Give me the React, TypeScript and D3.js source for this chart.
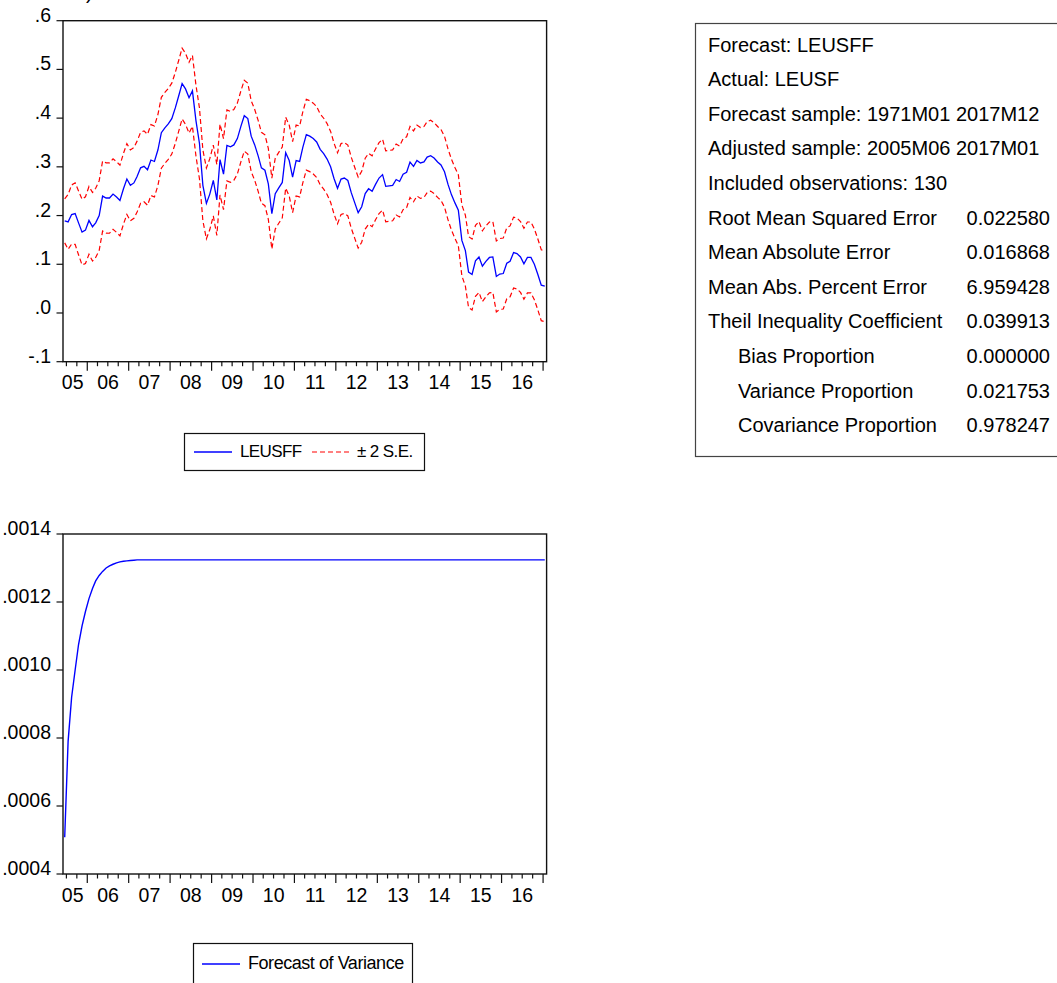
import React from "react";
import * as d3 from "d3";

// ---- data ----
const sampleStart = Date.UTC(2005, 5, 1); // 2005M06
const sampleEnd = Date.UTC(2017, 1, 1); // end of 2017M01

// LEUSFF forecast, monthly 2005M06 .. 2017M01
const forecast = [
  0.189, 0.187, 0.202, 0.204, 0.185, 0.166, 0.170, 0.190, 0.177, 0.185,
  0.200, 0.240, 0.236, 0.236, 0.244, 0.238, 0.231, 0.255, 0.275, 0.262,
  0.267, 0.280, 0.298, 0.301, 0.294, 0.314, 0.311, 0.335, 0.370, 0.380,
  0.388, 0.399, 0.421, 0.445, 0.471, 0.460, 0.442, 0.456, 0.395, 0.348,
  0.262, 0.225, 0.244, 0.272, 0.232, 0.315, 0.285, 0.344, 0.341, 0.345,
  0.358, 0.383, 0.405, 0.399, 0.363, 0.345, 0.322, 0.298, 0.293, 0.265,
  0.204, 0.245, 0.257, 0.268, 0.329, 0.313, 0.279, 0.313, 0.311, 0.340,
  0.366, 0.363, 0.358, 0.351, 0.336, 0.327, 0.316, 0.300, 0.276, 0.256,
  0.275, 0.277, 0.272, 0.247, 0.226, 0.206, 0.218, 0.245, 0.255, 0.250,
  0.264, 0.277, 0.284, 0.260, 0.261, 0.262, 0.274, 0.270, 0.285, 0.289,
  0.310, 0.301, 0.313, 0.308, 0.310, 0.320, 0.323, 0.318, 0.310, 0.304,
  0.290, 0.264, 0.243, 0.226, 0.211, 0.149, 0.128, 0.084, 0.079, 0.107,
  0.115, 0.096, 0.106, 0.114, 0.115, 0.075, 0.080, 0.081, 0.102, 0.106,
  0.124, 0.122, 0.115, 0.101, 0.114, 0.114, 0.100, 0.079, 0.057, 0.055,
];

// Forecast of variance, monthly 2005M06 .. 2017M01
const variance = [
  0.000508, 0.00079, 0.00092, 0.001, 0.001075, 0.00113, 0.001172, 0.00121, 0.00124, 0.001262,
  0.001278, 0.00129, 0.0013, 0.001306, 0.001311, 0.001315, 0.001318, 0.00132, 0.001321, 0.001322,
  0.001323, 0.001324, 0.001324, 0.001324, 0.001324, 0.001324, 0.001324, 0.001324, 0.001324, 0.001324,
  0.001324, 0.001324, 0.001324, 0.001324, 0.001324, 0.001324, 0.001324, 0.001324, 0.001324, 0.001324,
  0.001324, 0.001324, 0.001324, 0.001324, 0.001324, 0.001324, 0.001324, 0.001324, 0.001324, 0.001324,
  0.001324, 0.001324, 0.001324, 0.001324, 0.001324, 0.001324, 0.001324, 0.001324, 0.001324, 0.001324,
  0.001324, 0.001324, 0.001324, 0.001324, 0.001324, 0.001324, 0.001324, 0.001324, 0.001324, 0.001324,
  0.001324, 0.001324, 0.001324, 0.001324, 0.001324, 0.001324, 0.001324, 0.001324, 0.001324, 0.001324,
  0.001324, 0.001324, 0.001324, 0.001324, 0.001324, 0.001324, 0.001324, 0.001324, 0.001324, 0.001324,
  0.001324, 0.001324, 0.001324, 0.001324, 0.001324, 0.001324, 0.001324, 0.001324, 0.001324, 0.001324,
  0.001324, 0.001324, 0.001324, 0.001324, 0.001324, 0.001324, 0.001324, 0.001324, 0.001324, 0.001324,
  0.001324, 0.001324, 0.001324, 0.001324, 0.001324, 0.001324, 0.001324, 0.001324, 0.001324, 0.001324,
  0.001324, 0.001324, 0.001324, 0.001324, 0.001324, 0.001324, 0.001324, 0.001324, 0.001324, 0.001324,
  0.001324, 0.001324, 0.001324, 0.001324, 0.001324, 0.001324, 0.001324, 0.001324, 0.001324, 0.001324,
];

const yearLabels = ["05", "06", "07", "08", "09", "10", "11", "12", "13", "14", "15", "16"];
const topTicks = [-0.1, 0.0, 0.1, 0.2, 0.3, 0.4, 0.5, 0.6];
const topTickLabels = ["-.1", ".0", ".1", ".2", ".3", ".4", ".5", ".6"];
const botTicks = [0.0004, 0.0006, 0.0008, 0.001, 0.0012, 0.0014];
const botTickLabels = [".0004", ".0006", ".0008", ".0010", ".0012", ".0014"];

const statLabels = [
  "Forecast: LEUSFF",
  "Actual: LEUSF",
  "Forecast sample: 1971M01 2017M12",
  "Adjusted sample: 2005M06 2017M01",
  "Included observations: 130",
  "Root Mean Squared Error",
  "Mean Absolute Error",
  "Mean Abs. Percent Error",
  "Theil Inequality Coefficient",
  "Bias Proportion",
  "Variance Proportion",
  "Covariance Proportion",
];
const statValues = ["", "", "", "", "", "0.022580", "0.016868", "6.959428", "0.039913", "0.000000", "0.021753", "0.978247"];
const statIndent = [false, false, false, false, false, false, false, false, false, true, true, true];

// ---- layout ----
const W = 1057;
const H = 983;
const FONT = "'Liberation Sans', Arial, Helvetica, sans-serif";
const left = 63;
const right = 546.6;

const x = d3.scaleUtc().domain([new Date(sampleStart), new Date(sampleEnd)]).range([left, right]);
const dates = d3.utcMonth.range(new Date(sampleStart), new Date(sampleEnd)).map((d) => d3.utcDay.offset(d, 15));
const yearStarts = d3.utcYear.range(new Date(Date.UTC(2005, 0, 1)), new Date(Date.UTC(2017, 0, 1)));
const quarterTicks = d3.utcMonth.every(3)!.range(new Date(Date.UTC(2005, 5, 2)), new Date(Date.UTC(2017, 0, 2)));

function XAxis({ y0 }: { y0: number }) {
  const d0 = x.domain()[0];
  const d1 = x.domain()[1];
  return (
    <g>
      {quarterTicks.map((t, i) => {
        const long = t.getUTCMonth() === 0;
        return <line key={i} x1={x(t)} x2={x(t)} y1={y0} y2={y0 + (long ? 9 : 4.5)} stroke="#111" strokeWidth={1.2} />;
      })}
      {yearLabels.map((lab, i) => {
        const ys = yearStarts[i];
        const ye = d3.utcYear.offset(ys, 1);
        const a = ys < d0 ? d0 : ys;
        const b = ye > d1 ? d1 : ye;
        const cx = (x(a) + x(b)) / 2 - (i === 0 ? 2.5 : 0);
        return (
          <text key={lab} x={cx} y={y0 + 27.5} textAnchor="middle" fontSize={19.5} fontFamily={FONT} fill="#000">
            {lab}
          </text>
        );
      })}
    </g>
  );
}

function YAxis({ scale, ticks, labels }: { scale: d3.ScaleLinear<number, number>; ticks: number[]; labels: string[] }) {
  return (
    <g>
      {ticks.map((t, i) => (
        <g key={i}>
          <line x1={left - 6.5} x2={left} y1={scale(t)} y2={scale(t)} stroke="#111" strokeWidth={1.2} />
          <text x={51} y={scale(t) + 1} textAnchor="end" fontSize={19.5} fontFamily={FONT} fill="#000">
            {labels[i]}
          </text>
        </g>
      ))}
    </g>
  );
}

export default function App() {
  const yTop = d3.scaleLinear().domain([-0.1, 0.6]).range([361.7, 20.7]);
  const yBot = d3.scaleLinear().domain([0.0004, 0.0014]).range([874, 534]);

  const lineTop = d3
    .line<number>()
    .x((_, i) => x(dates[i]))
    .y((v) => yTop(v));
  const upper = forecast.map((v, i) => v + 2 * Math.sqrt(variance[i]));
  const lower = forecast.map((v, i) => v - 2 * Math.sqrt(variance[i]));
  const lineBot = d3
    .line<number>()
    .x((_, i) => x(dates[i]))
    .y((v) => yBot(v));

  const rowY0 = 51.5;
  const rowStep = 34.6;

  return (
    <svg
      width={W}
      height={H}
      viewBox={`0 0 ${W} ${H}`}
      style={{ position: "absolute", left: 0, top: 0, background: "#fff" }}
    >
      <rect x={0} y={0} width={W} height={H} fill="#fff" />
      <text x={86} y={-1} fontSize={20} fontFamily={FONT} fill="#000">)</text>

      {/* ---- top chart ---- */}
      <g>
        <path d={lineTop(upper) || ""} fill="none" stroke="#ff0000" strokeWidth={1.2} strokeDasharray="5,3" />
        <path d={lineTop(lower) || ""} fill="none" stroke="#ff0000" strokeWidth={1.2} strokeDasharray="5,3" />
        <path d={lineTop(forecast) || ""} fill="none" stroke="#0000ff" strokeWidth={1.3} />
        <rect x={left} y={20.7} width={right - left} height={361.7 - 20.7} fill="none" stroke="#111" strokeWidth={1.4} />
        <YAxis scale={yTop} ticks={topTicks} labels={topTickLabels} />
        <XAxis y0={361.7} />
        {/* legend */}
        <rect x={184.5} y={433.5} width={240} height={37} fill="#fff" stroke="#111" strokeWidth={1.2} />
        <line x1={194} x2={232} y1={452} y2={452} stroke="#0000ff" strokeWidth={1.3} />
        <text x={240} y={457} fontSize={17} fontFamily={FONT} letterSpacing={-0.6} fill="#000">LEUSFF</text>
        <line x1={312} x2={350} y1={452} y2={452} stroke="#ff0000" strokeWidth={1.2} strokeDasharray="5,3" />
        <text x={357} y={457} fontSize={17} fontFamily={FONT} letterSpacing={-0.6} fill="#000">± 2 S.E.</text>
      </g>

      {/* ---- bottom chart ---- */}
      <g>
        <path d={lineBot(variance) || ""} fill="none" stroke="#0000ff" strokeWidth={1.4} />
        <rect x={left} y={534} width={right - left} height={874 - 534} fill="none" stroke="#111" strokeWidth={1.4} />
        <YAxis scale={yBot} ticks={botTicks} labels={botTickLabels} />
        <XAxis y0={874} />
        <rect x={193.5} y={943.5} width={219} height={60} fill="#fff" stroke="#111" strokeWidth={1.2} />
        <line x1={202} x2={240} y1={964} y2={964} stroke="#0000ff" strokeWidth={1.3} />
        <text x={248} y={968.5} fontSize={18} fontFamily={FONT} letterSpacing={-0.45} fill="#000">Forecast of Variance</text>
      </g>

      {/* ---- statistics table ---- */}
      <g>
        <rect x={695.5} y={23.5} width={380} height={433} fill="#fff" stroke="#444" strokeWidth={1.2} />
        {statLabels.map((s, i) => (
          <g key={i}>
            <text
              x={statIndent[i] ? 738 : 708}
              y={rowY0 + i * rowStep}
              fontSize={20}
              fontFamily={FONT}
              fill="#000"
            >
              {s}
            </text>
            {statValues[i] && (
              <text x={1050} y={rowY0 + i * rowStep} textAnchor="end" fontSize={20} fontFamily={FONT} fill="#000">
                {statValues[i]}
              </text>
            )}
          </g>
        ))}
      </g>
    </svg>
  );
}
